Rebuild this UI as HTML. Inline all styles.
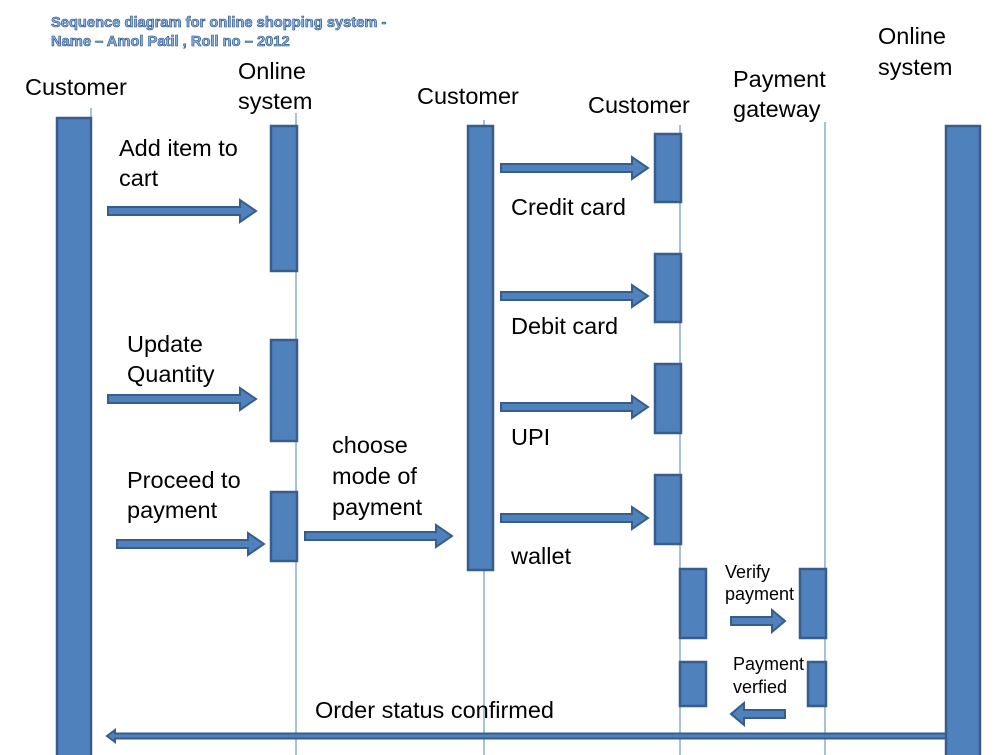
<!DOCTYPE html>
<html><head><meta charset="utf-8"><style>
html,body{margin:0;padding:0;background:#fff;}
svg{display:block;}
text{font-family:"Liberation Sans",sans-serif;fill:#000;}
</style></head><body>
<svg width="1002" height="755" viewBox="0 0 1002 755" xmlns="http://www.w3.org/2000/svg">
<g stroke="#4F81BD" stroke-width="1">
<line x1="91" y1="108" x2="91" y2="755"/>
<line x1="296" y1="113" x2="296" y2="755"/>
<line x1="484" y1="120" x2="484" y2="755"/>
<line x1="680" y1="125" x2="680" y2="755"/>
<line x1="825" y1="122" x2="825" y2="755"/>
</g>
<g fill="#4F81BD" stroke="#385D8A" stroke-width="2.5">
<rect x="57" y="118" width="34" height="640"/>
<rect x="271" y="126" width="26" height="145"/>
<rect x="271" y="340" width="26" height="101"/>
<rect x="271" y="492" width="26" height="69"/>
<rect x="468" y="126" width="25" height="444"/>
<rect x="655" y="134" width="26" height="68"/>
<rect x="655" y="254" width="26" height="68"/>
<rect x="655" y="364" width="26" height="69"/>
<rect x="655" y="475" width="26" height="69"/>
<rect x="680" y="569" width="26" height="69"/>
<rect x="680" y="662" width="26" height="44"/>
<rect x="800" y="569" width="26" height="69"/>
<rect x="808" y="662" width="18" height="44"/>
<rect x="946" y="126" width="34" height="640"/>
</g>
<g fill="#4F81BD" stroke="#385D8A" stroke-width="2">
<polygon points="108,207 240,207 240,200 256,211 240,222 240,215 108,215"/>
<polygon points="108,395 240,395 240,388 256,399 240,410 240,403 108,403"/>
<polygon points="117,540 248,540 248,533 264,544 248,555 248,548 117,548"/>
<polygon points="305,532 436,532 436,525 452,536 436,547 436,540 305,540"/>
<polygon points="501,164 632,164 632,157 648,168 632,179 632,172 501,172"/>
<polygon points="501,292 632,292 632,285 648,296 632,307 632,300 501,300"/>
<polygon points="501,403 632,403 632,396 648,407 632,418 632,411 501,411"/>
<polygon points="501,514 632,514 632,507 648,518 632,529 632,522 501,522"/>
<polygon points="731,617 772,617 772,610 785,621 772,632 772,625 731,625"/>
<polygon points="785,710 744,710 744,703 731,714 744,725 744,718 785,718"/>
<polygon points="946,733.5 115,733.5 115,730 107,736 115,742 115,738.5 946,738.5"/>
</g>
<g font-size="14.7" font-weight="bold" stroke="#1F497D" stroke-width="0.6">
<text x="51" y="27" style="fill:#8DB3E2">Sequence diagram for online shopping system  -</text>
<text x="51" y="46" style="fill:#8DB3E2">Name – Amol Patil , Roll no – 2012</text>
</g>
<g font-size="23.5">
<text x="25" y="95">Customer</text>
<text x="238" y="79">Online</text>
<text x="238" y="109">system</text>
<text x="417" y="104">Customer</text>
<text x="588" y="113">Customer</text>
<text x="733" y="87">Payment</text>
<text x="733" y="117">gateway</text>
<text x="878" y="44">Online</text>
<text x="878" y="75">system</text>
<text x="119" y="156">Add item to</text>
<text x="119" y="186">cart</text>
<text x="127" y="352">Update</text>
<text x="127" y="382">Quantity</text>
<text x="127" y="488">Proceed to</text>
<text x="127" y="518">payment</text>
<text x="332" y="453">choose</text>
<text x="332" y="484">mode of</text>
<text x="332" y="515">payment</text>
<text x="511" y="215">Credit card</text>
<text x="511" y="334">Debit card</text>
<text x="511" y="445">UPI</text>
<text x="511" y="564">wallet</text>
<text x="315" y="718">Order status confirmed</text>
</g>
<g font-size="18">
<text x="725" y="578">Verify</text>
<text x="725" y="600">payment</text>
<text x="733" y="670">Payment</text>
<text x="733" y="693">verfied</text>
</g>
</svg>
</body></html>
